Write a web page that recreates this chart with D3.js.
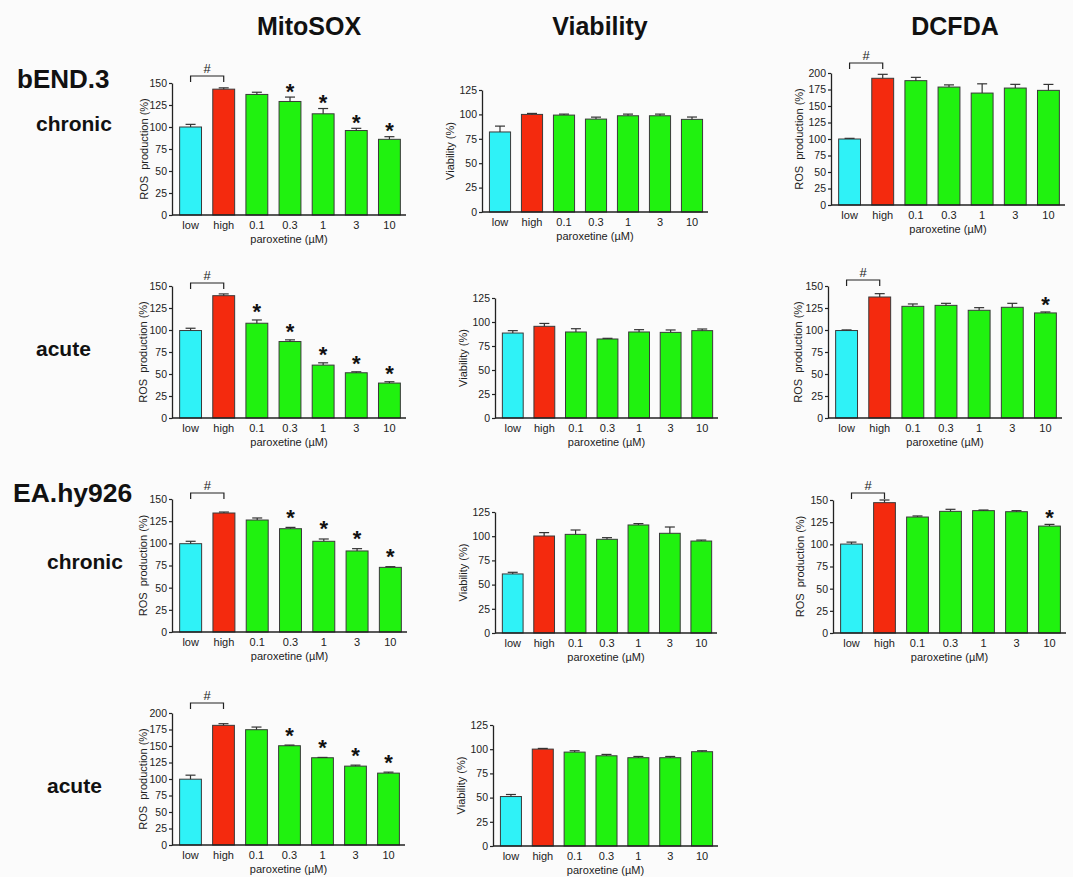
<!DOCTYPE html>
<html>
<head>
<meta charset="utf-8">
<script src="https://cdn.jsdelivr.net/npm/d3@7"></script>
<style>
  body { margin: 0; background: #fbfbfb; }
  svg { display: block; font-family: "Liberation Sans", Arial, Helvetica, sans-serif; }
  .ytitle { white-space: pre; }
</style>
</head>
<body>
<svg id="fig" width="1073" height="877"></svg>
<script>
// ---- categories and tick labels ----
const doses = ["low", "high", "0.1", "0.3", "1", "3", "10"];
const ticks150 = [0, 25, 50, 75, 100, 125, 150];
const ticks200 = [0, 25, 50, 75, 100, 125, 150, 175, 200];
const ticks125 = [0, 25, 50, 75, 100, 125];
const columnTitles = ["MitoSOX", "Viability", "DCFDA"];
const xTitle = "paroxetine (\u00B5M)";
const rosTitle = "ROS  production (%)";
const viaTitle = "Viability (%)";

// ---- bEND.3, chronic ----
const mitoBendChronic    = [100, 143, 137, 129, 115, 96, 86];
const mitoBendChronicErr = [3, 1.5, 2.5, 5, 6, 2.5, 3];
const viaBendChronic     = [82, 100, 99.3, 95.2, 98.6, 98.6, 94.9];
const viaBendChronicErr  = [6, 1, 1, 2, 1.7, 1.7, 2.4];
const dcfBendChronic     = [100, 192, 188.4, 178.7, 169.6, 177.2, 173.7];
const dcfBendChronicErr  = [1, 6, 5, 3.3, 14, 5.6, 9];

// ---- bEND.3, acute ----
const mitoBendAcute      = [99.4, 139, 107.7, 86.9, 60.1, 51.4, 39.7];
const mitoBendAcuteErr   = [2.6, 2, 3.7, 1.9, 2.6, 1.1, 1.5];
const viaBendAcute       = [88.5, 95.5, 89.6, 82.3, 89.6, 89.2, 91];
const viaBendAcuteErr    = [2.5, 3, 3.4, 0.7, 2.4, 2.5, 1.7];
const dcfBendAcute       = [99.4, 137.5, 126.9, 128, 122.4, 125.8, 119.4];
const dcfBendAcuteErr    = [0.7, 3.8, 2.7, 2.3, 3, 4.5, 1.1];

// ---- EA.hy926, chronic ----
const mitoEaChronic      = [99.6, 134.2, 126.3, 116.5, 102.3, 91.4, 72.9];
const mitoEaChronicErr   = [2.7, 1.1, 2.3, 1.5, 2.6, 2.6, 0.8];
const viaEaChronic       = [61, 100.2, 101.9, 96.8, 111.6, 103, 95];
const viaEaChronicErr    = [1.7, 3.5, 4.5, 1.7, 1.4, 6.5, 1];
const dcfEaChronic       = [100.3, 147, 130.8, 137.2, 138, 136.8, 120.6];
const dcfEaChronicErr    = [2.2, 3, 1.2, 2.3, 0.7, 1.2, 1.9];

// ---- EA.hy926, acute ----
const mitoEaAcute        = [99.7, 181.3, 174.7, 150.4, 132.2, 119.5, 108.9];
const mitoEaAcuteErr     = [6.1, 2.5, 4, 1, 0.5, 1.5, 1.5];
const viaEaAcute         = [51.1, 100.1, 97, 93.2, 91.2, 91.2, 97.4];
const viaEaAcuteErr      = [2.1, 0.7, 1.4, 1.4, 1.3, 1.3, 1];

// ---- significance marks (* vs high, # low vs high) ----
const starsMitoBendChronic = ["0.3", "1", "3", "10"];
const starsMitoBendAcute   = ["0.1", "0.3", "1", "3", "10"];
const starsDcfBendAcute    = ["10"];
const starsMitoEaChronic   = ["0.3", "1", "3", "10"];
const starsDcfEaChronic    = ["10"];
const starsMitoEaAcute     = ["0.3", "1", "3", "10"];

const barColors = ["#2ff2f7", "#f42a0e", "#20f20f", "#20f20f", "#20f20f", "#20f20f", "#20f20f"];
const ink = "#222";

// Panel frames: left = y-axis x, right = end of x-axis, top = y of max tick, bottom = y of 0
const panels = [
  { v: mitoBendChronic, e: mitoBendChronicErr, ticks: ticks150, title: rosTitle, left: 172, right: 406, top: 83,  bottom: 215, off: 28, stars: starsMitoBendChronic, hash: 7,  sg: 11 },
  { v: viaBendChronic,  e: viaBendChronicErr,  ticks: ticks125, title: viaTitle, left: 482, right: 708, top: 90,  bottom: 212, off: 32, stars: null, hash: null },
  { v: dcfBendChronic,  e: dcfBendChronicErr,  ticks: ticks200, title: rosTitle, left: 831, right: 1065, top: 73, bottom: 205, off: 32, stars: [], hash: 10, sg: 12 },
  { v: mitoBendAcute,   e: mitoBendAcuteErr,   ticks: ticks150, title: rosTitle, left: 172, right: 406, top: 286, bottom: 418, off: 29, stars: starsMitoBendAcute, hash: 3, sg: 13 },
  { v: viaBendAcute,    e: viaBendAcuteErr,    ticks: ticks125, title: viaTitle, left: 495, right: 718, top: 298, bottom: 418, off: 32, stars: null, hash: null },
  { v: dcfBendAcute,    e: dcfBendAcuteErr,    ticks: ticks150, title: rosTitle, left: 828, right: 1062, top: 286, bottom: 418, off: 30, stars: starsDcfBendAcute, hash: 6, sg: 12 },
  { v: mitoEaChronic,   e: mitoEaChronicErr,   ticks: ticks150, title: rosTitle, left: 172, right: 407, top: 499, bottom: 632, off: 29, stars: starsMitoEaChronic, hash: 6, sg: 15 },
  { v: viaEaChronic,    e: viaEaChronicErr,    ticks: ticks125, title: viaTitle, left: 495, right: 717, top: 512, bottom: 633, off: 32, stars: null, hash: null },
  { v: dcfEaChronic,    e: dcfEaChronicErr,    ticks: ticks150, title: rosTitle, left: 833, right: 1066, top: 500, bottom: 633, off: 33, stars: starsDcfEaChronic, hash: 7, sg: 12 },
  { v: mitoEaAcute,     e: mitoEaAcuteErr,     ticks: ticks200, title: rosTitle, left: 172, right: 405, top: 713, bottom: 845, off: 29, stars: starsMitoEaAcute, hash: 10, sg: 15 },
  { v: viaEaAcute,      e: viaEaAcuteErr,      ticks: ticks125, title: viaTitle, left: 493, right: 718, top: 725, bottom: 846, off: 32, stars: null, hash: null }
];

const svg = d3.select("#fig");
svg.append("rect").attr("width", 1073).attr("height", 877).attr("fill", "#fbfbfb");

// column headings
const headX = [309, 600, 955];
svg.selectAll("text.head").data(columnTitles).join("text")
  .attr("class", "head")
  .attr("x", (d, i) => headX[i]).attr("y", 35)
  .attr("text-anchor", "middle")
  .attr("font-size", 25).attr("font-weight", "bold").attr("fill", "#111")
  .text(d => d);

// row labels
const rowLabels = [
  { t: "bEND.3",   x: 17, y: 88,  s: 26 },
  { t: "chronic",  x: 36, y: 131, s: 21 },
  { t: "acute",    x: 36, y: 356, s: 21 },
  { t: "EA.hy926", x: 13, y: 502, s: 26.5 },
  { t: "chronic",  x: 47, y: 569, s: 21 },
  { t: "acute",    x: 47, y: 793, s: 21 }
];
svg.selectAll("text.row").data(rowLabels).join("text")
  .attr("class", "row")
  .attr("x", d => d.x).attr("y", d => d.y)
  .attr("font-size", d => d.s).attr("font-weight", "bold").attr("fill", "#111")
  .text(d => d.t);

panels.forEach(p => {
  const g = svg.append("g");
  const x = d3.scaleBand().domain(doses).range([p.left + 2, p.right])
    .paddingInner(0.34).paddingOuter(0.17);
  const ymax = p.ticks[p.ticks.length - 1];
  const y = d3.scaleLinear().domain([0, ymax]).range([p.bottom, p.top]);
  const rows = doses.map((d, i) => ({ dose: d, v: p.v[i], e: p.e[i], c: barColors[i] }));

  // bars
  g.selectAll("rect.bar").data(rows).join("rect")
    .attr("class", "bar")
    .attr("x", d => x(d.dose)).attr("width", x.bandwidth())
    .attr("y", d => y(d.v)).attr("height", d => y(0) - y(d.v))
    .attr("fill", d => d.c).attr("stroke", "#3a3a3a").attr("stroke-width", 1);

  // error bars (upper only)
  const eb = g.selectAll("g.err").data(rows).join("g").attr("class", "err")
    .attr("stroke", "#333").attr("stroke-width", 1.2);
  eb.append("line")
    .attr("x1", d => x(d.dose) + x.bandwidth() / 2).attr("x2", d => x(d.dose) + x.bandwidth() / 2)
    .attr("y1", d => y(d.v)).attr("y2", d => y(d.v + d.e));
  eb.append("line")
    .attr("x1", d => x(d.dose) + x.bandwidth() / 2 - 5).attr("x2", d => x(d.dose) + x.bandwidth() / 2 + 5)
    .attr("y1", d => y(d.v + d.e)).attr("y2", d => y(d.v + d.e));

  // y axis
  const ya = g.append("g").attr("transform", `translate(${p.left},0)`)
    .call(d3.axisLeft(y).tickValues(p.ticks).tickSize(3).tickSizeOuter(0).tickPadding(2));
  ya.select(".domain").attr("stroke", ink).attr("stroke-width", 1.3);
  ya.selectAll(".tick line").attr("stroke", ink).attr("stroke-width", 1.2);
  ya.selectAll(".tick text").attr("font-size", 10.5).attr("fill", ink)
    .attr("font-family", "Liberation Sans, Arial, sans-serif");

  // x axis
  const xa = g.append("g").attr("transform", `translate(0,${p.bottom})`)
    .call(d3.axisBottom(x).tickSize(0).tickPadding(6));
  xa.select(".domain").remove();
  xa.selectAll(".tick text").attr("font-size", 11).attr("fill", ink)
    .attr("font-family", "Liberation Sans, Arial, sans-serif");
  g.append("line").attr("x1", p.left).attr("x2", p.right)
    .attr("y1", p.bottom).attr("y2", p.bottom)
    .attr("stroke", ink).attr("stroke-width", 1.3);

  // axis titles
  g.append("text").attr("x", (p.left + p.right) / 2).attr("y", p.bottom + 28)
    .attr("text-anchor", "middle").attr("font-size", 11).attr("fill", ink)
    .text(xTitle);
  g.append("text").attr("class", "ytitle")
    .attr("transform", `translate(${p.left - p.off},${(p.top + p.bottom) / 2}) rotate(-90)`)
    .attr("text-anchor", "middle").attr("dy", "0.35em")
    .attr("font-size", 11).attr("fill", ink)
    .text(p.title);

  // # bracket between low and high
  if (p.hash !== null) {
    const by = p.top - p.hash;
    const xl = x("low") + x.bandwidth() / 2, xh = x("high") + x.bandwidth() / 2;
    g.append("path")
      .attr("d", `M${xl},${by + 6}V${by}H${xh}V${by + 6}`)
      .attr("fill", "none").attr("stroke", ink).attr("stroke-width", 1.2);
    g.append("text").attr("x", (xl + xh) / 2).attr("y", by - 3)
      .attr("text-anchor", "middle").attr("font-size", 13).attr("fill", ink)
      .text("#");
  }

  // * marks above error bars
  if (p.stars) {
    g.selectAll("text.star").data(rows.filter(d => p.stars.includes(d.dose))).join("text")
      .attr("class", "star")
      .attr("x", d => x(d.dose) + x.bandwidth() / 2)
      .attr("y", d => y(d.v + d.e) - p.sg + 12.5)
      .attr("text-anchor", "middle").attr("font-size", 22).attr("font-weight", "bold")
      .attr("fill", "#111")
      .text("*");
  }
});
</script>
</body>
</html>
